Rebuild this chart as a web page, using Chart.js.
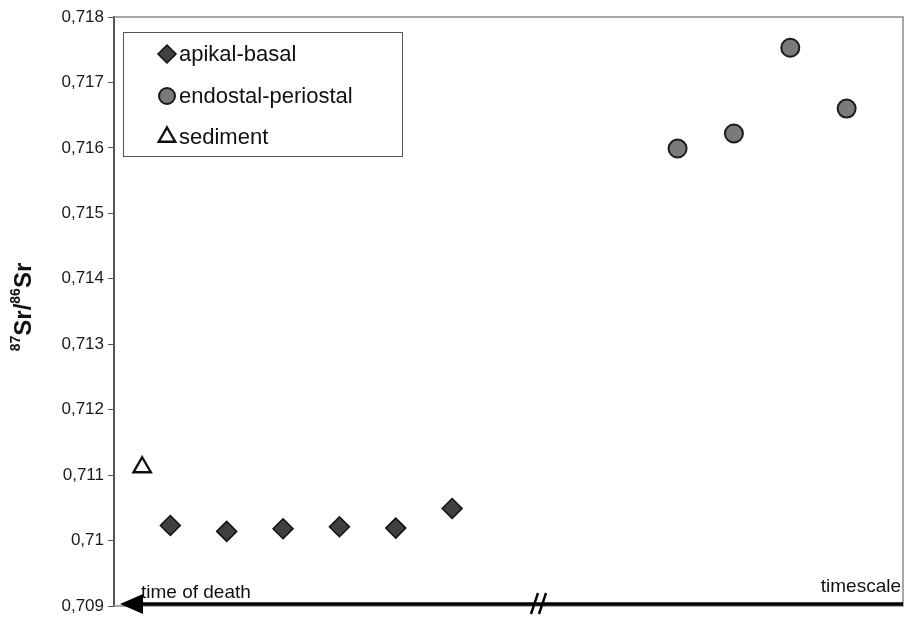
<!DOCTYPE html>
<html><head><meta charset="utf-8">
<script src="https://cdn.jsdelivr.net/npm/chart.js@4"></script>
<style>html,body{margin:0;padding:0;background:#fff}#wrap{width:907px;height:621px}</style>
</head><body><div id="wrap"><canvas id="c" width="907" height="621"></canvas></div>
<script>
// ---- data ----
const seriesNames = ['apikal-basal', 'endostal-periostal', 'sediment'];
const apikalX = [1, 2, 3, 4, 5, 6];
const apikalY = [0.71023, 0.71014, 0.71018, 0.71021, 0.71019, 0.71049];
const endostalX = [10, 11, 12, 13];
const endostalY = [0.71599, 0.71622, 0.71753, 0.71660];
const sedimentX = [0.5];
const sedimentY = [0.71112];
const yTickValues = [0.709, 0.710, 0.711, 0.712, 0.713, 0.714, 0.715, 0.716, 0.717, 0.718];
const yTickLabels = ['0,709', '0,71', '0,711', '0,712', '0,713', '0,714', '0,715', '0,716', '0,717', '0,718'];
const axisTexts = ['time of death', 'timescale'];

const pts = (xs, ys) => xs.map((x, i) => ({x: x, y: ys[i]}));
const FONT = '"Liberation Sans", Arial, sans-serif';

const styles = [
  {pointStyle: 'rectRot', radius: 10, bg: '#404040', border: '#111', bw: 1.5, legR: 9},
  {pointStyle: 'circle', radius: 9, bg: '#7a7a7a', border: '#1a1a1a', bw: 2, legR: 8},
  {pointStyle: 'triangle', radius: 10, bg: '#fff', border: '#111', bw: 2.4, legR: 9.5}
];
const dataArr = [pts(apikalX, apikalY), pts(endostalX, endostalY), pts(sedimentX, sedimentY)];

const overlay = {
  id: 'overlay',
  afterDatasetsDraw(chart) {
    const ctx = chart.ctx, a = chart.chartArea;
    ctx.save();
    // frame top and right
    ctx.strokeStyle = '#8a8a8a'; ctx.lineWidth = 1.5;
    ctx.beginPath(); ctx.moveTo(a.left, a.top); ctx.lineTo(a.right, a.top); ctx.lineTo(a.right, a.bottom); ctx.lineTo(a.left, a.bottom); ctx.stroke();
    // time arrow
    const ay = a.bottom - 2;
    ctx.strokeStyle = '#000'; ctx.lineWidth = 3.5;
    ctx.beginPath(); ctx.moveTo(a.left + 20, ay); ctx.lineTo(a.right, ay); ctx.stroke();
    ctx.fillStyle = '#000';
    ctx.beginPath(); ctx.moveTo(a.left + 6, ay); ctx.lineTo(a.left + 29, ay - 10); ctx.lineTo(a.left + 29, ay + 10); ctx.closePath(); ctx.fill();
    // break mark
    ctx.lineWidth = 2.4;
    ctx.beginPath(); ctx.moveTo(531, 614); ctx.lineTo(538, 593); ctx.moveTo(539, 614); ctx.lineTo(546, 593); ctx.stroke();
    // axis texts
    ctx.fillStyle = '#111'; ctx.font = '19px ' + FONT; ctx.textBaseline = 'alphabetic';
    ctx.textAlign = 'left'; ctx.fillText(axisTexts[0], 141, 598);
    ctx.textAlign = 'right'; ctx.fillText(axisTexts[1], 901, 592);
    // legend
    ctx.fillStyle = '#fff'; ctx.fillRect(123, 32, 280, 125);
    ctx.strokeStyle = '#555'; ctx.lineWidth = 1;
    ctx.strokeRect(123.5, 32.5, 279, 124);
    const rows = [54, 96, 137];
    chart.data.datasets.forEach((ds, i) => {
      const s = styles[i];
      ctx.fillStyle = s.bg; ctx.strokeStyle = s.border; ctx.lineWidth = s.bw;
      Chart.helpers.drawPoint(ctx, {pointStyle: s.pointStyle, radius: s.legR, rotation: 0, borderWidth: s.bw}, 167, rows[i]);
      ctx.fillStyle = '#111'; ctx.font = '22px ' + FONT; ctx.textAlign = 'left'; ctx.textBaseline = 'middle';
      ctx.fillText(ds.label, 179, rows[i] + 1);
    });
    // y title with superscripts
    ctx.translate(22, 307); ctx.rotate(-Math.PI / 2);
    const parts = [['87', true], ['Sr/', false], ['86', true], ['Sr', false]];
    const fBig = 'bold 24px ' + FONT, fSmall = 'bold 14px ' + FONT;
    let total = 0;
    parts.forEach(p => { ctx.font = p[1] ? fSmall : fBig; total += ctx.measureText(p[0]).width; });
    let x = -total / 2;
    ctx.fillStyle = '#111'; ctx.textAlign = 'left'; ctx.textBaseline = 'alphabetic';
    parts.forEach(p => {
      ctx.font = p[1] ? fSmall : fBig;
      ctx.fillText(p[0], x, p[1] ? -2 : 9);
      x += ctx.measureText(p[0]).width;
    });
    ctx.restore();
  }
};

new Chart(document.getElementById('c'), {
  type: 'scatter',
  data: {
    datasets: dataArr.map((d, i) => ({
      label: seriesNames[i], data: d, clip: false,
      pointStyle: styles[i].pointStyle, pointRadius: styles[i].radius, pointHoverRadius: styles[i].radius,
      backgroundColor: styles[i].bg, borderColor: styles[i].border, borderWidth: styles[i].bw
    }))
  },
  options: {
    responsive: false, animation: false, devicePixelRatio: 1,
    layout: {autoPadding: false, padding: {left: 0, right: 4, top: 17, bottom: 15}},
    plugins: {legend: {display: false}, tooltip: {enabled: false}},
    scales: {
      x: {type: 'linear', min: 0, max: 14, display: false},
      y: {
        type: 'linear', min: 0.709, max: 0.718,
        afterFit: s => { s.width = 114; },
        afterBuildTicks: s => { s.ticks = yTickValues.map(v => ({value: v})); },
        ticks: {
          callback: (v) => { const i = yTickValues.findIndex(t => Math.abs(t - v) < 1e-7); return i >= 0 ? yTickLabels[i] : ''; },
          color: '#1a1a1a', font: {family: FONT, size: 17}, padding: 4
        },
        grid: {display: true, drawOnChartArea: false, drawTicks: true, tickLength: 6, color: '#555', lineWidth: 1},
        border: {display: true, color: '#555', width: 2}
      }
    }
  },
  plugins: [overlay]
});
</script></body></html>
